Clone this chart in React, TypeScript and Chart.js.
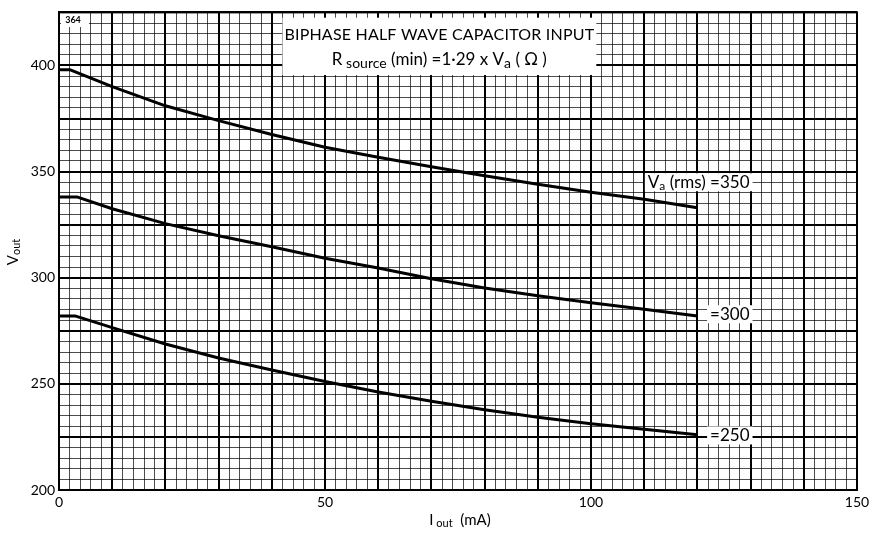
import React, { useEffect, useRef } from 'react';
import { Chart, registerables } from 'chart.js';

Chart.register(...registerables);

// I_out (mA) sample points for each curve
const iOut350 = [0, 2, 10, 20, 30, 40, 50, 60, 70, 80, 90, 100, 110, 120];
const vOut350 = [398, 398, 390, 381, 374, 367.5, 361.5, 356.8, 352.3, 348, 344, 340.3, 337, 333];

const iOut300 = [0, 3.5, 10, 20, 30, 40, 50, 60, 70, 80, 90, 100, 110, 120];
const vOut300 = [338, 338, 332.5, 325.5, 319.8, 314.6, 309.2, 304.6, 299.5, 295.2, 291.5, 288.2, 285.2, 282];

const iOut250 = [0, 3, 10, 20, 30, 40, 50, 60, 70, 80, 90, 100, 110, 120];
const vOut250 = [282, 282, 276.5, 268.8, 262.2, 256.5, 251.1, 246.2, 241.8, 237.8, 234.3, 231.2, 228.6, 226];

const xTickLabels = [0, 50, 100, 150];
const yTickLabels = [200, 250, 300, 350, 400];

const FONT = 'Lato, "Open Sans", sans-serif';

type Part = [string, boolean];

function richWidth(ctx: CanvasRenderingContext2D, parts: Part[], size: number, subScale: number) {
  let w = 0;
  for (const [t, sub] of parts) {
    ctx.font = `${sub ? Math.round(size * subScale) : size}px ${FONT}`;
    w += ctx.measureText(t).width;
  }
  return w;
}

function drawRich(
  ctx: CanvasRenderingContext2D,
  parts: Part[],
  x: number,
  y: number,
  align: string,
  size: number,
  subScale = 0.72
) {
  const w = richWidth(ctx, parts, size, subScale);
  let cx = align === 'center' ? x - w / 2 : align === 'right' ? x - w : x;
  ctx.textBaseline = 'middle';
  ctx.textAlign = 'left';
  ctx.fillStyle = '#000';
  for (const [t, sub] of parts) {
    ctx.font = `${sub ? Math.round(size * subScale) : size}px ${FONT}`;
    ctx.fillText(t, cx, sub ? y + size * 0.22 : y);
    cx += ctx.measureText(t).width;
  }
  return w;
}

const annotate = {
  id: 'annotate',
  afterDraw(chart: any) {
    const { ctx, scales } = chart;
    const x = scales.x;
    const y = scales.y;
    ctx.save();

    // sheet number box
    ctx.fillStyle = '#fff';
    ctx.fillRect(61, 12, 28, 15);
    ctx.fillStyle = '#000';
    ctx.font = `bold 9px ${FONT}`;
    ctx.textAlign = 'center';
    ctx.textBaseline = 'middle';
    ctx.fillText('364', 73, 20);

    // title box
    const bx0 = x.getPixelForValue(42);
    const bx1 = x.getPixelForValue(101);
    const by0 = y.getPixelForValue(422.5);
    const by1 = y.getPixelForValue(395.5);
    ctx.fillStyle = '#fff';
    ctx.fillRect(bx0, by0, bx1 - bx0, by1 - by0);
    const cx = (bx0 + bx1) / 2;
    ctx.save();
    (ctx as any).letterSpacing = '0.2px';
    drawRich(ctx, [['BIPHASE HALF WAVE CAPACITOR INPUT', false]], cx, y.getPixelForValue(414.2), 'center', 16);
    ctx.restore();
    drawRich(
      ctx,
      [['R', false], [' source', true], [' (min) =1·29 x V', false], ['a', true], [' ( Ω )', false]],
      cx,
      y.getPixelForValue(402.8),
      'center',
      17,
      0.8
    );

    // curve labels
    const labels: { parts: Part[]; v: number }[] = [
      { parts: [['V', false], ['a', true], [' (rms) =350', false]], v: 345 },
      { parts: [['=300', false]], v: 282.8 },
      { parts: [['=250', false]], v: 225.7 },
    ];
    const rx = x.getPixelForValue(129.8);
    for (const l of labels) {
      const py = y.getPixelForValue(l.v);
      const w = richWidth(ctx, l.parts, 17, 0.72);
      ctx.fillStyle = '#fff';
      ctx.fillRect(rx - w - 3, py - 9, w + 6, 18);
      drawRich(ctx, l.parts, rx, py, 'right', 17);
    }

    // axis titles
    ctx.save();
    ctx.translate(13, 252);
    ctx.rotate(-Math.PI / 2);
    drawRich(ctx, [['V', false], ['out', true]], 0, 0, 'center', 15);
    ctx.restore();
    drawRich(ctx, [['I', false], [' out', true], ['  (mA)', false]], 460, 520, 'center', 15);

    ctx.restore();
  },
};

function toPoints(xs: number[], ys: number[]) {
  return xs.map((v, i) => ({ x: v, y: ys[i] }));
}

export default function App() {
  const ref = useRef<HTMLCanvasElement | null>(null);
  useEffect(() => {
    if (!ref.current) return;
    const lineStyle = {
      borderColor: '#000',
      borderWidth: 3,
      pointRadius: 0,
      fill: false,
      tension: 0,
      borderJoinStyle: 'round' as const,
    };
    const chart = new Chart(ref.current, {
      type: 'line',
      data: {
        datasets: [
          { label: '350', data: toPoints(iOut350, vOut350), ...lineStyle },
          { label: '300', data: toPoints(iOut300, vOut300), ...lineStyle },
          { label: '250', data: toPoints(iOut250, vOut250), ...lineStyle },
        ],
      },
      options: {
        animation: false,
        responsive: true,
        maintainAspectRatio: false,
        layout: { padding: { left: 0, top: 9, right: 23, bottom: 0 } },
        plugins: { legend: { display: false }, tooltip: { enabled: false } },
        scales: {
          x: {
            type: 'linear',
            min: 0,
            max: 150,
            afterFit: (s: any) => {
              s.height = 44;
            },
            ticks: {
              stepSize: 2,
              autoSkip: false,
              maxRotation: 0,
              padding: 4,
              color: '#000',
              font: { family: FONT, size: 14 },
              callback: (v: any) => (xTickLabels.includes(Number(v)) ? String(v) : ''),
            },
            grid: {
              drawTicks: false,
              color: (c: any) => (Math.round(c.tick.value) % 10 === 0 ? '#000' : 'rgba(0,0,0,0.7)'),
              lineWidth: (c: any) => (Math.round(c.tick.value) % 10 === 0 ? 2 : 1),
            },
            border: { display: true, color: '#000', width: 2 },
          },
          y: {
            type: 'linear',
            min: 200,
            max: 425,
            afterFit: (s: any) => {
              s.width = 59;
            },
            ticks: {
              stepSize: 5,
              autoSkip: false,
              padding: 4,
              color: '#000',
              font: { family: FONT, size: 14 },
              callback: (v: any) => (yTickLabels.includes(Number(v)) ? String(v) : ''),
            },
            grid: {
              drawTicks: false,
              color: (c: any) => (Math.round(c.tick.value) % 25 === 0 ? '#000' : 'rgba(0,0,0,0.7)'),
              lineWidth: (c: any) => (Math.round(c.tick.value) % 25 === 0 ? 2 : 1),
            },
            border: { display: true, color: '#000', width: 2 },
          },
        },
      },
      plugins: [
        annotate,
        {
          id: 'frame',
          afterDraw(ch: any) {
            const a = ch.chartArea;
            const c = ch.ctx;
            c.save();
            c.strokeStyle = '#000';
            c.lineWidth = 2;
            c.strokeRect(a.left, a.top, a.right - a.left, a.bottom - a.top);
            c.restore();
          },
        },
      ],
    });
    return () => chart.destroy();
  }, []);
  return (
    <div style={{ position: 'absolute', left: 0, top: 0, width: 880, height: 534, background: '#fff' }}>
      <canvas ref={ref} />
    </div>
  );
}
